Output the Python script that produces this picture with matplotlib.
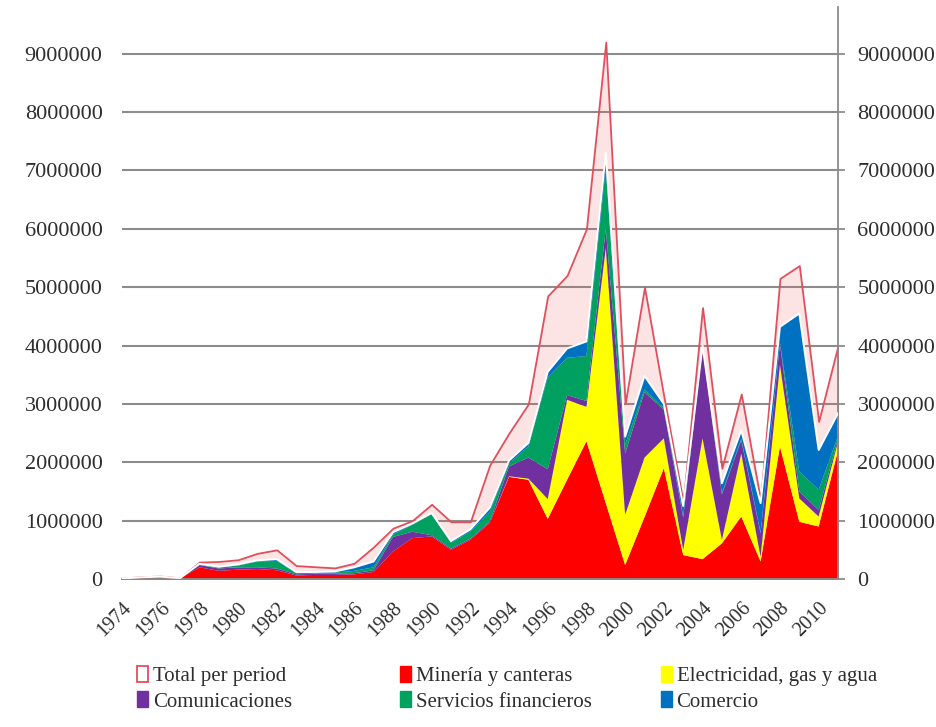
import numpy as np
import matplotlib.pyplot as plt
from matplotlib.patches import Patch
from matplotlib.ticker import StrMethodFormatter

# inversion por sector y año
years = np.arange(1974, 2012)

mineria = [5000, 20000, 30000, 10000, 200000, 140000, 160000, 170000, 150000, 60000,
           70000, 70000, 80000, 120000, 470000, 700000, 730000, 500000, 670000, 960000,
           1750000, 1700000, 1030000, 1700000, 2360000, 1300000, 240000, 1060000, 1900000, 410000,
           340000, 610000, 1070000, 300000, 2270000, 980000, 900000, 2200000]
electricidad = [0, 0, 0, 0, 0, 0, 0, 0, 0, 0,
                0, 0, 0, 0, 0, 0, 0, 0, 0, 0,
                10000, 20000, 340000, 1370000, 590000, 4370000, 860000, 1020000, 510000, 90000,
                2070000, 60000, 1080000, 80000, 1400000, 400000, 170000, 150000]
comunicaciones = [2000, 2000, 3000, 2000, 40000, 40000, 40000, 30000, 30000, 20000,
                  20000, 20000, 20000, 30000, 250000, 110000, 20000, 20000, 20000, 20000,
                  170000, 360000, 510000, 80000, 100000, 330000, 1050000, 1120000, 490000, 550000,
                  1540000, 780000, 230000, 400000, 360000, 120000, 110000, 50000]
servicios = [1000, 3000, 3000, 2000, 10000, 20000, 30000, 100000, 130000, 20000,
             10000, 20000, 40000, 50000, 40000, 120000, 370000, 100000, 120000, 170000,
             50000, 190000, 1570000, 640000, 770000, 1050000, 150000, 50000, 30000, 20000,
             10000, 20000, 20000, 20000, 20000, 340000, 350000, 50000]
comercio = [2000, 5000, 4000, 1000, 10000, 10000, 20000, 20000, 30000, 20000,
            20000, 20000, 60000, 100000, 40000, 20000, 10000, 30000, 40000, 70000,
            50000, 60000, 100000, 160000, 250000, 250000, 140000, 230000, 70000, 180000,
            40000, 170000, 150000, 500000, 270000, 2710000, 680000, 390000]
total = [15000, 40000, 50000, 20000, 290000, 300000, 330000, 440000, 500000, 230000,
         210000, 190000, 270000, 550000, 870000, 1000000, 1280000, 980000, 980000, 1950000,
         2500000, 3000000, 4850000, 5200000, 6000000, 9200000, 3000000, 5000000, 3130000, 1320000,
         4650000, 1900000, 3170000, 1350000, 5150000, 5370000, 2700000, 4000000]

labels = ['Total per period', 'Minería y canteras', 'Electricidad, gas y agua',
          'Comunicaciones', 'Servicios financieros', 'Comercio']
colores = ['#ff0000', '#ffff00', '#7030a0', '#00a060', '#0070c0']
gris = '#8c8c8c'
texto = '#2e2e2e'
fuente = 'Liberation Serif'

fig = plt.figure(figsize=(9.37, 7.27), dpi=100)
ax = fig.add_axes([122/937, 148/727, 716/937, 572/727])

ax.fill_between(years, 0, total, facecolor=(0.93, 0.35, 0.35, 0.16),
                edgecolor='#e0505c', linewidth=1.3, zorder=1)
ax.stackplot(years, mineria, electricidad, comunicaciones, servicios, comercio,
             colors=colores, linewidth=0, zorder=2)
tope = np.sum([mineria, electricidad, comunicaciones, servicios, comercio], axis=0)
ax.plot(years, tope, color='white', lw=1.4, zorder=3)

ax.set_xlim(1974, 2011)
ax.set_ylim(0, 9800000)
ax.set_yticks(np.arange(0, 9000001, 1000000))
ax.yaxis.set_major_formatter(StrMethodFormatter('{x:.0f}'))
ax.yaxis.grid(True, color=gris, lw=1.5)
ax.set_axisbelow(True)

for s in ['left', 'top']:
    ax.spines[s].set_visible(False)
for s in ['right', 'bottom']:
    ax.spines[s].set_color(gris)
    ax.spines[s].set_linewidth(1.3)

ax.tick_params(axis='y', left=False, right=True, labelleft=True, labelright=True,
               direction='out', length=5, color=gris, width=1.3, pad=9,
               labelsize=16, labelcolor=texto)
for t in ax.get_yticklabels():
    t.set_fontfamily(fuente)

ax.set_xticks(years[::2])
ax.set_xticklabels([str(y) for y in years[::2]], rotation=45, ha='right',
                   rotation_mode='anchor', fontsize=14.5, color=texto, fontfamily=fuente)
ax.tick_params(axis='x', length=0, pad=14)

# leyenda en tres columnas
h_total = Patch(facecolor='white', edgecolor='#e0505c', linewidth=1.3)
handles = [Patch(color=c) for c in colores]
grupos = [([h_total, handles[2]], [labels[0], labels[3]], 137),
          ([handles[0], handles[3]], [labels[1], labels[4]], 400),
          ([handles[1], handles[4]], [labels[2], labels[5]], 661)]
for hs, ls, x0 in grupos:
    fig.legend(hs, ls, loc='upper left', bbox_to_anchor=(x0/937, 1 - 666/727),
               frameon=False, borderpad=0, borderaxespad=0, handlelength=0.55,
               handleheight=0.8, handletextpad=0.2, labelspacing=0.25,
               prop={'family': fuente, 'size': 15}, labelcolor=texto)

fig.savefig('out.png', dpi=100)
